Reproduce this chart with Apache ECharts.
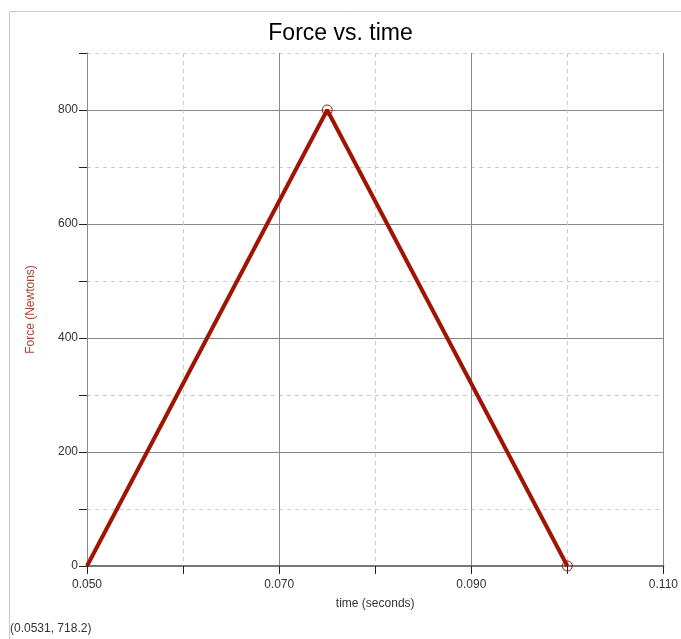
<!DOCTYPE html>
<html><head><meta charset="utf-8">
<script src="https://cdn.jsdelivr.net/npm/echarts@6/dist/echarts.min.js"></script>
<style>html,body{margin:0;padding:0;background:#fff}#c{width:681px;height:639px}</style>
</head><body><div id="c"></div>
<script>
const timeValues = [0.050, 0.075, 0.100];
const forceValues = [0, 800, 0];
const xTickLabels = ['0.050', '0.070', '0.090', '0.110'];
const yTickLabels = ['0', '200', '400', '600', '800'];
const titleText = 'Force vs. time';
const xName = 'time (seconds)';
const yName = 'Force (Newtons)';
const readout = '(0.0531, 718.2)';

const FONT = '"Liberation Sans", Arial, sans-serif';
const chart = echarts.init(document.getElementById('c'), null, {renderer: 'canvas'});

function fmtX(v) {
  const s = v.toFixed(3);
  return xTickLabels.indexOf(s) >= 0 ? s : '';
}
function fmtY(v) {
  const s = String(Math.round(v));
  return yTickLabels.indexOf(s) >= 0 ? s : '';
}

const data = timeValues.map((t, i) => ({
  value: [t, forceValues[i]],
  symbol: i === 0 ? 'none' : 'circle'
}));

const baseX = {type: 'value', min: 0.05, max: 0.11, interval: 0.01, gridIndex: 0};
const baseY = {type: 'value', min: 0, max: 900, interval: 100, gridIndex: 0};

chart.setOption({
  animation: false,
  title: {text: titleText, left: 'center', top: 17,
    textStyle: {fontFamily: FONT, fontSize: 23, fontWeight: 'normal', color: '#000'}},
  grid: {left: 87, right: 16, top: 53, bottom: 73, containLabel: false},
  xAxis: [
    Object.assign({}, baseX, {
      name: xName, nameLocation: 'middle', nameGap: 32,
      nameTextStyle: {fontFamily: FONT, fontSize: 12, color: '#333'},
      axisLine: {show: true, onZero: false, lineStyle: {color: '#777', width: 2}},
      axisTick: {show: true, length: 8, lineStyle: {color: '#222'}},
      axisLabel: {formatter: fmtX, fontFamily: FONT, fontSize: 12, color: '#333', margin: 13, showMinLabel: true, showMaxLabel: true},
      splitLine: {show: true, lineStyle: {color: ['#888', 'rgba(0,0,0,0)'], type: 'solid', width: 1}}
    }),
    Object.assign({}, baseX, {
      axisLine: {show: false}, axisTick: {show: false}, axisLabel: {show: false},
      splitLine: {show: true, lineStyle: {color: ['rgba(0,0,0,0)', '#ccc'], type: [4, 4], width: 1}}
    })
  ],
  yAxis: [
    Object.assign({}, baseY, {
      name: yName, nameLocation: 'middle', nameGap: 50, nameRotate: 90,
      nameTextStyle: {fontFamily: FONT, fontSize: 12, color: '#b0402f'},
      axisLine: {show: true, onZero: false, lineStyle: {color: '#888', width: 1}},
      axisTick: {show: true, length: 8, lineStyle: {color: '#222'}},
      axisLabel: {formatter: fmtY, fontFamily: FONT, fontSize: 12, color: '#333', margin: 9},
      splitLine: {show: true, lineStyle: {color: ['#888', 'rgba(0,0,0,0)'], type: 'solid', width: 1}}
    }),
    Object.assign({}, baseY, {
      axisLine: {show: false}, axisTick: {show: false}, axisLabel: {show: false},
      splitLine: {show: true, lineStyle: {color: ['rgba(0,0,0,0)', '#ccc'], type: [4, 4], width: 1}}
    })
  ],
  graphic: [
    {type: 'line', shape: {x1: 9.5, y1: 11.5, x2: 681, y2: 11.5}, style: {stroke: '#c8c8c8', lineWidth: 1}, silent: true},
    {type: 'line', shape: {x1: 9.5, y1: 11.5, x2: 9.5, y2: 639}, style: {stroke: '#c8c8c8', lineWidth: 1}, silent: true},
    {type: 'text', left: 10, top: 623, style: {text: readout, font: '12px ' + FONT, fill: '#333'}, silent: true}
  ],
  series: [{
    type: 'line', xAxisIndex: 0, yAxisIndex: 0,
    data: data,
    symbolSize: 10,
    showSymbol: true,
    lineStyle: {color: '#9e1503', width: 4},
    itemStyle: {color: 'rgba(255,255,255,0)', borderColor: '#9e1503', borderWidth: 1},
    z: 5
  }]
});
</script></body></html>
